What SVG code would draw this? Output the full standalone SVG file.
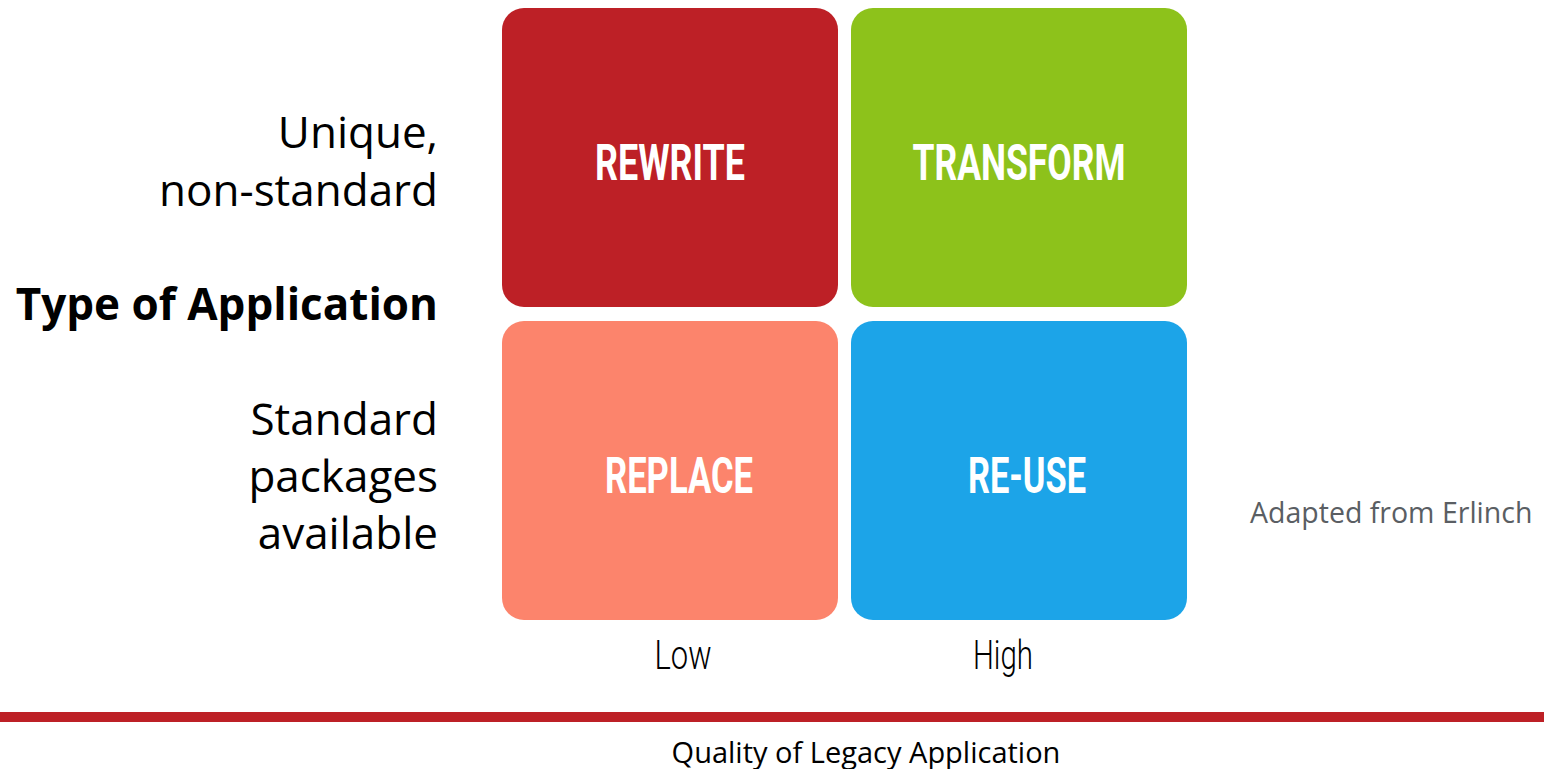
<svg xmlns="http://www.w3.org/2000/svg" width="1544" height="769" viewBox="0 0 1544 769">
<style>
.side{font-family:"Open Sans","Noto Sans",sans-serif;font-size:44px;fill:#000;text-anchor:end}
.bold{font-weight:bold}
.lbl{font-family:Roboto,"Liberation Sans",sans-serif;font-weight:bold;font-size:50px;fill:#fff;text-anchor:middle}
.axis{font-family:Roboto,"Liberation Sans",sans-serif;font-weight:300;font-size:40px;fill:#000;text-anchor:middle}
.small{font-family:"Open Sans","Noto Sans",sans-serif}
</style>
<rect width="1544" height="769" fill="#fff"/>
<g id="labels-y">
<text class="side" x="438" y="148">Unique,</text>
<text class="side" x="438" y="206">non-standard</text>
<text class="side bold" x="438" y="320">Type of Application</text>
<text class="side" x="438" y="435">Standard</text>
<text class="side" x="438" y="492">packages</text>
<text class="side" x="438" y="549">available</text>
</g>
<g id="rewrite">
<rect x="502" y="8" width="336" height="299" rx="22" fill="#bd2026"/>
<text class="lbl" x="670" y="180" textLength="150" lengthAdjust="spacingAndGlyphs">REWRITE</text>
</g>
<g id="transform">
<rect x="851" y="8" width="336" height="299" rx="22" fill="#8dc21b"/>
<text class="lbl" x="1019" y="180" textLength="213" lengthAdjust="spacingAndGlyphs">TRANSFORM</text>
</g>
<g id="replace">
<rect x="502" y="321" width="336" height="299" rx="22" fill="#fc846c"/>
<text class="lbl" x="679" y="493" textLength="148" lengthAdjust="spacingAndGlyphs">REPLACE</text>
</g>
<g id="reuse">
<rect x="851" y="321" width="336" height="299" rx="22" fill="#1ca4e8"/>
<text class="lbl" x="1027" y="493" textLength="118" lengthAdjust="spacingAndGlyphs">RE-USE</text>
</g>
<g id="labels-x">
<text class="axis" x="683" y="669" textLength="57" lengthAdjust="spacingAndGlyphs">Low</text>
<text class="axis" x="1003" y="669" textLength="60" lengthAdjust="spacingAndGlyphs">High</text>
</g>
<rect id="bar" x="0" y="712" width="1544" height="10" fill="#bd2026"/>
<text class="small" x="1250" y="523" font-size="28.5" fill="#5a5e63">Adapted from Erlinch</text>
<text class="small" x="866" y="763" font-size="29" fill="#000" text-anchor="middle">Quality of Legacy Application</text>
</svg>
